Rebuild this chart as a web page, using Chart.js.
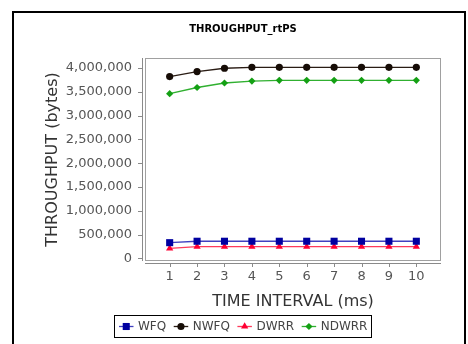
<!DOCTYPE html>
<html>
<head>
<meta charset="utf-8">
<script src="https://cdn.jsdelivr.net/npm/chart.js@4.4.0/dist/chart.umd.min.js"></script>
<style>
  html, body { margin: 0; padding: 0; background: #fff; width: 468px; height: 344px; overflow: hidden; }
  #frame { position: absolute; left: 12px; top: 11px; width: 450px; height: 400px; border: 2px solid #000; }
  #wrap { position: absolute; left: 20px; top: 0; width: 446px; height: 344px; }
</style>
</head>
<body>
<div id="frame"></div>
<div id="wrap"><canvas id="c" width="446" height="344"></canvas></div>
<script>
// Time intervals (ms) on the x axis
const intervals = [1, 2, 3, 4, 5, 6, 7, 8, 9, 10];
// Throughput per scheduler (bytes)
const wfq   = [330000, 360000, 360000, 360000, 360000, 360000, 360000, 360000, 360000, 360000];
const nwfq  = [3820000, 3925000, 3995000, 4015000, 4015000, 4015000, 4015000, 4015000, 4015000, 4015000];
const dwrr  = [210000, 245000, 245000, 245000, 245000, 245000, 245000, 245000, 245000, 245000];
const ndwrr = [3460000, 3590000, 3685000, 3725000, 3740000, 3740000, 3740000, 3740000, 3740000, 3740000];
// Y axis tick values
const yTicks = [0, 500000, 1000000, 1500000, 2000000, 2500000, 3000000, 3500000, 4000000];

const FONT = 'DejaVu Sans';

function series(label, values, line, fill, style, radius) {
  return {
    label,
    data: intervals.map((x, i) => ({ x, y: values[i] })),
    borderColor: line,
    backgroundColor: fill,
    borderWidth: 1.3,
    pointStyle: style,
    pointRadius: radius,
    pointBackgroundColor: fill,
    pointBorderColor: fill,
    pointBorderWidth: 0,
    tension: 0
  };
}

// Plot frame, offset axis lines and tick marks
const axesPlugin = {
  id: 'axesFrame',
  beforeDatasetsDraw(chart) {
    const { ctx, chartArea: a, scales } = chart;
    ctx.save();
    ctx.lineWidth = 1;
    ctx.strokeStyle = '#a0a0a0';
    ctx.strokeRect(a.left + 0.5, a.top + 0.5, a.right - a.left - 1, a.bottom - a.top - 1);
    ctx.strokeStyle = '#8a8a8a';
    ctx.beginPath();
    ctx.moveTo(a.left - 2.5, a.top);
    ctx.lineTo(a.left - 2.5, a.bottom);
    ctx.moveTo(a.left, a.bottom + 2.5);
    ctx.lineTo(a.right, a.bottom + 2.5);
    yTicks.forEach(v => {
      const y = Math.round(scales.y.getPixelForValue(v)) + 0.5;
      ctx.moveTo(a.left - 7, y);
      ctx.lineTo(a.left - 2.5, y);
    });
    intervals.forEach(v => {
      const x = Math.round(scales.x.getPixelForValue(v)) + 0.5;
      ctx.moveTo(x, a.bottom + 2.5);
      ctx.lineTo(x, a.bottom + 6);
    });
    ctx.stroke();
    ctx.restore();
  }
};

// Boxed legend with line + marker samples
const legendPlugin = {
  id: 'boxLegend',
  afterDraw(chart) {
    const { ctx } = chart;
    const ds = chart.data.datasets;
    ctx.save();
    ctx.font = '12px "' + FONT + '"';
    const padX = 4.5, lineLen = 14.5, gapText = 4.5, gapItem = 7.5;
    const widths = ds.map(d => ctx.measureText(d.label).width);
    const total = padX * 2 + ds.length * (lineLen + gapText) + widths.reduce((s, w) => s + w, 0) + gapItem * (ds.length - 1);
    const boxTop = 315.5, boxH = 22;
    let x = Math.round(chart.width / 2 - total / 2) + 0.5;
    ctx.strokeStyle = '#000';
    ctx.lineWidth = 1;
    ctx.strokeRect(x, boxTop, Math.round(total), boxH);
    const cy = boxTop + boxH / 2;
    x += padX;
    ds.forEach((d, i) => {
      ctx.strokeStyle = d.borderColor;
      ctx.lineWidth = 1.3;
      ctx.beginPath();
      ctx.moveTo(x, cy);
      ctx.lineTo(x + lineLen, cy);
      ctx.stroke();
      ctx.fillStyle = d.pointBackgroundColor;
      ctx.strokeStyle = d.pointBorderColor;
      Chart.helpers.drawPoint(ctx, { pointStyle: d.pointStyle, radius: d.pointRadius, rotation: 0, borderWidth: 0 }, x + lineLen / 2, cy);
      x += lineLen + gapText;
      ctx.fillStyle = '#444';
      ctx.textBaseline = 'middle';
      ctx.textAlign = 'left';
      ctx.fillText(d.label, x, cy + 0.5);
      x += widths[i] + gapItem;
    });
    ctx.restore();
  }
};

new Chart(document.getElementById('c'), {
  type: 'line',
  data: {
    datasets: [
      series('WFQ', wfq, '#4040c0', '#0000a0', 'rect', 5),
      series('NWFQ', nwfq, '#2a1c14', '#160c06', 'circle', 3.6),
      series('DWRR', dwrr, '#ff3a5a', '#ff0033', 'triangle', 4.2),
      series('NDWRR', ndwrr, '#30b030', '#14a014', 'rectRot', 3.6)
    ]
  },
  options: {
    responsive: false,
    animation: false,
    devicePixelRatio: 1,
    layout: { padding: { left: 25, right: 25, top: 0, bottom: 33 } },
    plugins: {
      legend: { display: false },
      tooltip: { enabled: false },
      title: {
        display: true,
        text: 'THROUGHPUT_rtPS',
        color: '#000',
        font: { family: FONT, size: 10, weight: 'bold' },
        padding: { top: 23, bottom: 23 }
      }
    },
    scales: {
      x: {
        type: 'linear',
        min: 0.1,
        max: 10.9,
        afterBuildTicks: s => { s.ticks = intervals.map(v => ({ value: v })); },
        afterFit: s => { s.height = 50; },
        grid: { display: false, drawTicks: false },
        border: { display: false },
        ticks: { color: '#555', padding: 8, font: { family: FONT, size: 13 }, callback: v => String(v) },
        title: {
          display: true,
          text: 'TIME INTERVAL (ms)',
          color: '#333',
          font: { family: FONT, size: 16 },
          padding: { top: 0, bottom: 0 }
        }
      },
      y: {
        min: -55000,
        max: 4210000,
        afterBuildTicks: s => { s.ticks = yTicks.map(v => ({ value: v })); },
        afterFit: s => { s.width = 100; },
        grid: { display: false, drawTicks: false },
        border: { display: false },
        ticks: { color: '#555', padding: 13, font: { family: FONT, size: 13 }, callback: v => v.toLocaleString('en-US') },
        title: {
          display: true,
          text: 'THROUGHPUT (bytes)',
          color: '#333',
          font: { family: FONT, size: 16 },
          padding: { top: -1.5, bottom: 0 }
        }
      }
    }
  },
  plugins: [axesPlugin, legendPlugin]
});
</script>
</body>
</html>
